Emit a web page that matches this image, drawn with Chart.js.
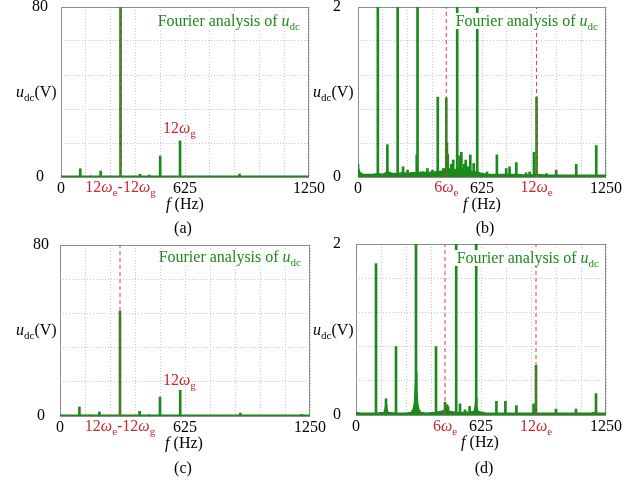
<!DOCTYPE html>
<html>
<head>
<meta charset="utf-8">
<script src="https://cdn.jsdelivr.net/npm/chart.js@4.4.0/dist/chart.umd.min.js"></script>
<style>
  body { margin: 0; background: #fff; }
  #wrap { position: relative; width: 637px; height: 483px; overflow: hidden;
          font-family: "Liberation Serif", "Times New Roman", serif; font-size: 16px; }
  .pane { position: absolute; }
  .lbl { position: absolute; white-space: nowrap; line-height: 16px; color: #000; }
  .lbl sub { font-size: 11px; vertical-align: -4px; line-height: 0; font-style: normal; }
  .green { color: #1b8a1b; }
  .red { color: #c8282d; }
  .box { background: #fff; padding: 0 4px; }
</style>
</head>
<body>
<div id="wrap"></div>
<script>
// ---- data ----
const freqLabels = [0, 625, 1250];

// (a)
const freqA = [97, 148, 200, 300, 398, 445, 500, 600, 900];
const ampA  = [3.9, 0.5, 2.8, 80, 1.3, 0.9, 9.9, 17, 1.4];
const floorFreqA = [0, 1250];
const floorAmpA  = [0.3, 0.3];
const marksA = [300];

// (b)
const freqB = [0, 100, 148, 200, 227, 250, 296, 300, 350, 375,
               402, 430, 445, 448, 452, 470, 480, 500, 512, 521,
               535, 543, 555, 566, 583, 601, 650, 700, 747, 764,
               798, 847, 865, 887, 900, 950, 999, 1100, 1201];
const ampB  = [0.15, 3, 0.38, 3, 0.12, 0.08, 0.26, 3, 0.1, 0.08,
               0.94, 0.1, 0.93, 0.4, 0.27, 0.15, 0.2, 3, 0.25, 0.29,
               0.15, 0.2, 0.12, 0.26, 0.16, 3, 0.06, 0.26, 0.1, 0.12,
               0.17, 0.05, 0.06, 0.29, 0.94, 0.04, 0.08, 0.15, 0.37];
const floorFreqB = [0, 10, 25, 50, 75, 100, 125, 150, 175, 200,
                    225, 250, 275, 300, 325, 350, 375, 400, 425, 440,
                    450, 460, 475, 490, 500, 515, 530, 550, 575, 600,
                    625, 650, 700, 750, 800, 850, 900, 950, 1000, 1100,
                    1200, 1250];
const floorAmpB  = [0.12, 0.05, 0.03, 0.03, 0.03, 0.04, 0.03, 0.06, 0.04, 0.04,
                    0.05, 0.04, 0.05, 0.05, 0.06, 0.05, 0.06, 0.06, 0.07, 0.1,
                    0.13, 0.09, 0.11, 0.08, 0.1, 0.08, 0.1, 0.07, 0.06, 0.06,
                    0.04, 0.03, 0.03, 0.03, 0.03, 0.02, 0.03, 0.02, 0.02, 0.02,
                    0.02, 0.02];
const marksB = [445, 900];

// (c)
const freqC = [97, 148, 197, 300, 398, 445, 500, 601, 902, 1208];
const ampC  = [4.2, 0.5, 1.9, 49, 2.2, 0.6, 8.9, 12, 1.4, 0.8];
const floorFreqC = [0, 1250];
const floorAmpC  = [0.3, 0.3];
const marksC = [300];

// (d)
const freqD = [0, 100, 150, 200, 300, 400, 445, 455, 460, 501,
               520, 545, 568, 601, 702, 747, 802, 888, 900, 1000,
               1100, 1185, 1200];
const ampD  = [0.03, 1.77, 0.19, 0.8, 3, 0.8, 0.15, 0.12, 0.1, 3,
               0.13, 0.06, 0.1, 3, 0.16, 0.16, 0.11, 0.13, 0.58, 0.07,
               0.07, 0.03, 0.25];
const floorFreqD = [0, 25, 50, 100, 140, 146, 150, 154, 160, 200,
                    250, 275, 285, 292, 296, 300, 304, 308, 315, 325,
                    350, 400, 440, 450, 470, 500, 550, 590, 596, 600,
                    604, 610, 650, 700, 800, 900, 1000, 1100, 1250];
const floorAmpD  = [0.03, 0.02, 0.02, 0.02, 0.03, 0.08, 0.12, 0.08, 0.03, 0.02,
                    0.02, 0.03, 0.06, 0.14, 0.3, 0.5, 0.3, 0.14, 0.06, 0.03,
                    0.02, 0.03, 0.05, 0.06, 0.04, 0.03, 0.03, 0.04, 0.1, 0.2,
                    0.1, 0.04, 0.02, 0.02, 0.02, 0.02, 0.02, 0.02, 0.02];
const marksD = [445, 900];

// ---- drawing ----
const GREEN = '#1b8a1b';
const RED = '#dc4040';
const wrap = document.getElementById('wrap');

const framePlugin = {
  id: 'frame',
  beforeDatasetsDraw(chart) {
    const a = chart.chartArea, ctx = chart.ctx;
    ctx.save();
    ctx.strokeStyle = '#8c8c8c';
    ctx.lineWidth = 1;
    ctx.strokeRect(Math.round(a.left) + 0.5, Math.round(a.top) + 0.5,
                   Math.round(a.right - a.left) - 1, Math.round(a.bottom - a.top));
    ctx.restore();
  }
};

function makePanel(p) {
  const div = document.createElement('div');
  div.className = 'pane';
  div.style.left = p.left + 'px';
  div.style.top = p.top + 'px';
  const cv = document.createElement('canvas');
  cv.width = p.w; cv.height = p.h;
  div.appendChild(cv);
  wrap.appendChild(div);

  const spikes = p.freq.map((f, i) => ({ x: f, y: p.amp[i] }));
  const floor = p.floorFreq.map((f, i) => ({ x: f, y: p.floorAmp[i] }));
  const datasets = [
    { type: 'line', data: floor, borderColor: GREEN, backgroundColor: GREEN,
      borderWidth: 1.5, pointRadius: 0, fill: 'origin', order: 3 },
    { type: 'bar', data: spikes, backgroundColor: GREEN, barThickness: 2,
      grouped: false, order: 2 }
  ];
  p.marks.forEach(f => datasets.push({
    type: 'line', data: [{ x: f, y: 0 }, { x: f, y: p.yMax }],
    borderColor: RED, borderWidth: 1, borderDash: [4, 3], pointRadius: 0, order: 1
  }));

  const font = { family: 'Liberation Serif', size: 16 };
  return new Chart(cv, {
    type: 'line',
    data: { datasets },
    plugins: [framePlugin],
    options: {
      responsive: false,
      animation: false,
      events: [],
      layout: { padding: { left: 0, top: p.padT, right: p.padR, bottom: 0 } },
      plugins: { legend: { display: false }, tooltip: { enabled: false } },
      scales: {
        x: {
          type: 'linear', min: 0, max: 1250, offset: false,
          ticks: { stepSize: 125, autoSkip: false, maxRotation: 0, padding: 2,
                   color: '#000', font,
                   callback: v => freqLabels.includes(v) ? String(v) : '' },
          grid: { color: '#c6c6c6', drawTicks: false, offset: false },
          border: { display: false, dash: [1, 2] },
          afterFit: s => { s.height = p.xAxisH; s.paddingLeft = 0; s.paddingRight = 0; }
        },
        y: {
          min: 0, max: p.yMax,
          ticks: { stepSize: p.yStep, padding: p.yPad, crossAlign: 'center',
                   color: '#000', font,
                   callback: v => v === 0 ? '0' : (Math.abs(v - p.yMax) < 1e-6 ? String(p.yMax) : '') },
          grid: { color: '#c6c6c6', drawTicks: false },
          border: { display: false, dash: [1, 2] },
          afterFit: s => { s.width = p.yAxisW; s.paddingTop = 0; s.paddingBottom = 0; }
        }
      }
    }
  });
}

function addText(html, cls, x, baseline, align) {
  const s = document.createElement('div');
  s.className = 'lbl ' + cls;
  s.innerHTML = html;
  s.style.top = (baseline - 13) + 'px';
  if (align === 'right') s.style.right = (637 - x) + 'px';
  else if (align === 'center') { s.style.left = x + 'px'; s.style.transform = 'translateX(-50%)'; }
  else s.style.left = x + 'px';
  wrap.appendChild(s);
}

const W = 'ω';
const title = 'Fourier analysis of <i>u</i><sub>dc</sub>';
const yTitle = '<i>u</i><sub>dc</sub>(V)';
const xTitle = '<i>f</i> (Hz)';

const chartA = makePanel({ left: 0, top: 0, w: 330, h: 200, padT: 7, padR: 21, yAxisW: 61, xAxisH: 23,
  yMax: 80, yStep: 8, yPad: 13, freq: freqA, amp: ampA, floorFreq: floorFreqA, floorAmp: floorAmpA, marks: marksA });
const chartB = makePanel({ left: 300, top: 0, w: 337, h: 200, padT: 7, padR: 31, yAxisW: 58, xAxisH: 23,
  yMax: 2, yStep: 0.2, yPad: 17, freq: freqB, amp: ampB, floorFreq: floorFreqB, floorAmp: floorAmpB, marks: marksB });
const chartC = makePanel({ left: 0, top: 226, w: 330, h: 213, padT: 19, padR: 20, yAxisW: 60, xAxisH: 23,
  yMax: 80, yStep: 8, yPad: 11, freq: freqC, amp: ampC, floorFreq: floorFreqC, floorAmp: floorAmpC, marks: marksC });
const chartD = makePanel({ left: 300, top: 226, w: 337, h: 212, padT: 18, padR: 31, yAxisW: 56, xAxisH: 23,
  yMax: 2, yStep: 0.2, yPad: 15, freq: freqD, amp: ampD, floorFreq: floorFreqD, floorAmp: floorAmpD, marks: marksD });

function px(chart, left, f) { return left + chart.scales.x.getPixelForValue(f); }

// (a)
addText(title, 'green box', 304, 26, 'right');
addText(yTitle, '', 16, 97, 'left');
addText('12<i>' + W + '</i><sub>g</sub>', 'red', 163, 133, 'left');
addText('12<i>' + W + '</i><sub>e</sub>-12<i>' + W + '</i><sub>g</sub>', 'red', px(chartA, 0, marksA[0]), 192, 'center');
addText(xTitle, '', 185, 209, 'center');
addText('(a)', '', 183, 233, 'center');
// (b)
addText(title, 'green box', 602, 26, 'right');
addText(yTitle, '', 313, 97, 'left');
addText('6<i>' + W + '</i><sub>e</sub>', 'red', px(chartB, 300, marksB[0]), 192, 'center');
addText('12<i>' + W + '</i><sub>e</sub>', 'red', px(chartB, 300, marksB[1]), 192, 'center');
addText(xTitle, '', 482, 209, 'center');
addText('(b)', '', 485, 233, 'center');
// (c)
addText(title, 'green box', 305, 262, 'right');
addText(yTitle, '', 16, 335, 'left');
addText('12<i>' + W + '</i><sub>g</sub>', 'red', 163, 385, 'left');
addText('12<i>' + W + '</i><sub>e</sub>-12<i>' + W + '</i><sub>g</sub>', 'red', px(chartC, 0, marksC[0]), 431, 'center');
addText(xTitle, '', 184, 448, 'center');
addText('(c)', '', 183, 473, 'center');
// (d)
addText(title, 'green box', 603, 263, 'right');
addText(yTitle, '', 313, 335, 'left');
addText('6<i>' + W + '</i><sub>e</sub>', 'red', px(chartD, 300, marksD[0]), 431, 'center');
addText('12<i>' + W + '</i><sub>e</sub>', 'red', px(chartD, 300, marksD[1]), 431, 'center');
addText(xTitle, '', 480, 447, 'center');
addText('(d)', '', 484, 473, 'center');
</script>
</body>
</html>
